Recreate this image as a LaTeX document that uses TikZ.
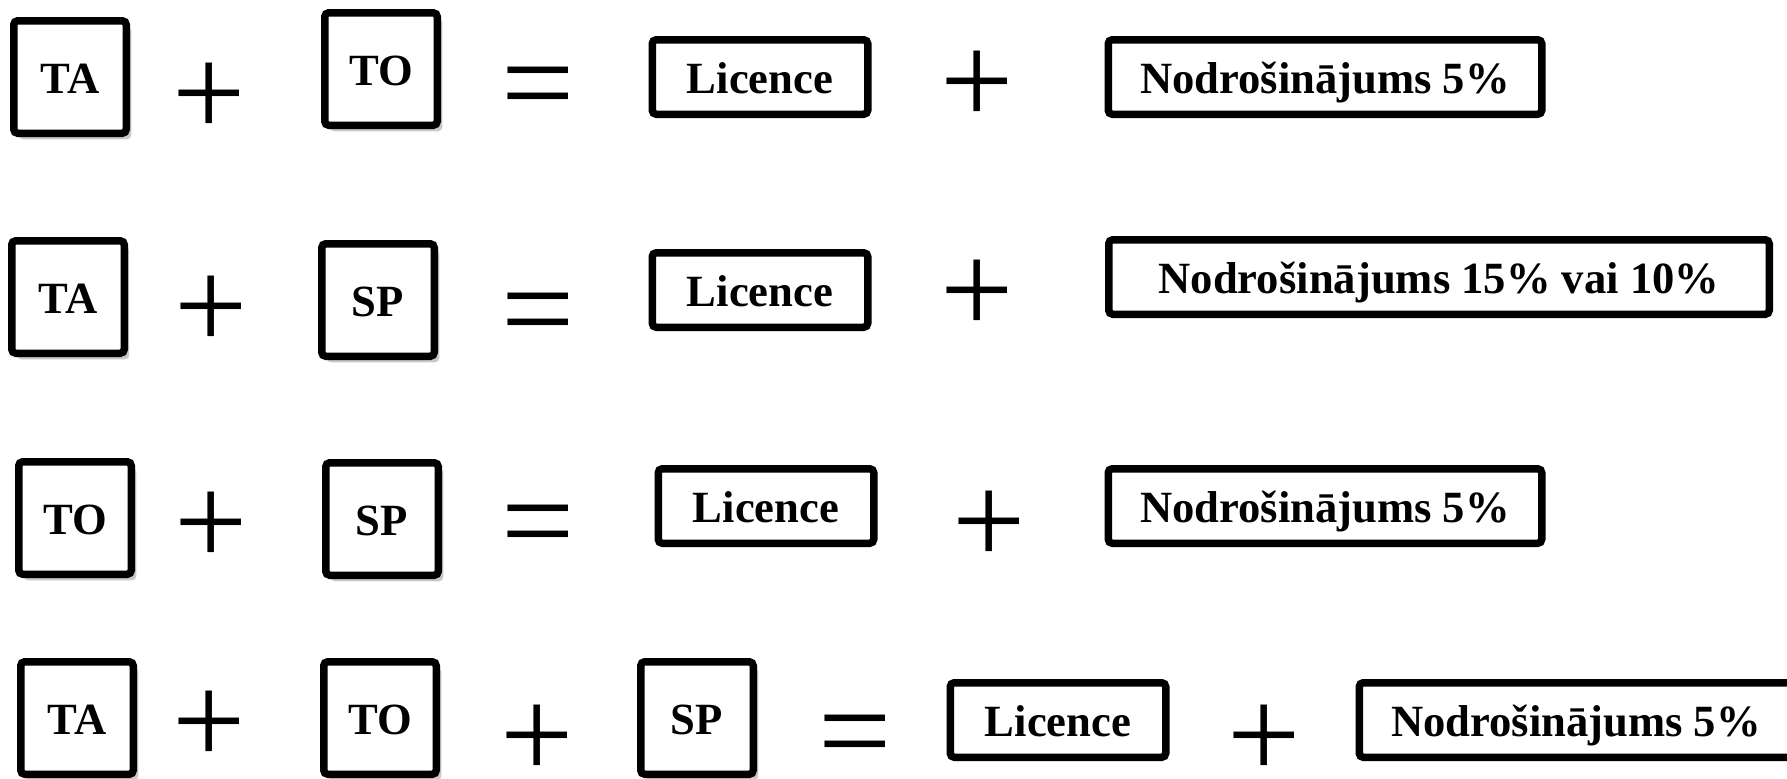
\documentclass[tikz,border=0pt]{standalone}
\usepackage{fontspec}
\setmainfont{Liberation Serif}
\usetikzlibrary{shadows}

\tikzset{
  box/.style={draw,line width=0.75mm,rounded corners=0.4mm,fill=white,inner sep=0pt,
    font=\fontsize{12.7}{15}\selectfont\bfseries,text height=3.25mm,text depth=0pt},
  part/.style={box,minimum width=11.25mm,minimum height=11.25mm,
    drop shadow={shadow xshift=0.5mm,shadow yshift=-0.6mm,opacity=0.3,fill=black!70}},
  lic/.style={box,minimum width=21.55mm,minimum height=7.45mm},
  nod/.style={box,minimum width=43.35mm,minimum height=7.45mm},
  sym/.style={font=\fontsize{37}{40}\selectfont,inner sep=0pt,text height=9.3mm,text depth=0pt}
}

\begin{document}
\begin{tikzpicture}[x=0.1mm,y=-0.1mm]
\useasboundingbox (0,0) rectangle (1787,778);

% TA + TO
\node[part] (ta1) at (70,77) {TA};
\node[sym] (pa1) at (209,90) {+};
\node[part] (to1) at (381,69) {TO};
\node[sym] (eq1) at (538,80) {=};
\node[lic] (li1) at (760,77) {Licence};
\node[sym] (pb1) at (977,78) {+};
\node[nod] (no1) at (1325,77) {Nodrošinājums 5\%};

% TA + SP
\node[part] (ta2) at (68,297) {TA};
\node[sym] (pa2) at (211,303) {+};
\node[part] (sp2) at (378,300) {SP};
\node[sym] (eq2) at (538,306) {=};
\node[lic] (li2) at (760,290) {Licence};
\node[sym] (pb2) at (977,287) {+};
\node[nod,minimum width=66.05mm] (no2) at (1439,277) {Nodrošinājums 15\% vai 10\%};

% TO + SP
\node[part] (to3) at (75,518) {TO};
\node[sym] (pa3) at (211,519) {+};
\node[part] (sp3) at (382,519) {SP};
\node[sym] (eq3) at (538,518) {=};
\node[lic] (li3) at (766,506) {Licence};
\node[sym] (pb3) at (989,518) {+};
\node[nod] (no3) at (1325,506) {Nodrošinājums 5\%};

% TA + TO + SP
\node[part] (ta4) at (77,718) {TA};
\node[sym] (pa4) at (209,718) {+};
\node[part] (to4) at (380,718) {TO};
\node[sym] (pb4) at (537,732) {+};
\node[part] (sp4) at (697,718) {SP};
\node[sym] (eq4) at (855,728) {=};
\node[lic] (li4) at (1058,720) {Licence};
\node[sym] (pc4) at (1264,732) {+};
\node[nod] (no4) at (1576,720) {Nodrošinājums 5\%};
\end{tikzpicture}
\end{document}
